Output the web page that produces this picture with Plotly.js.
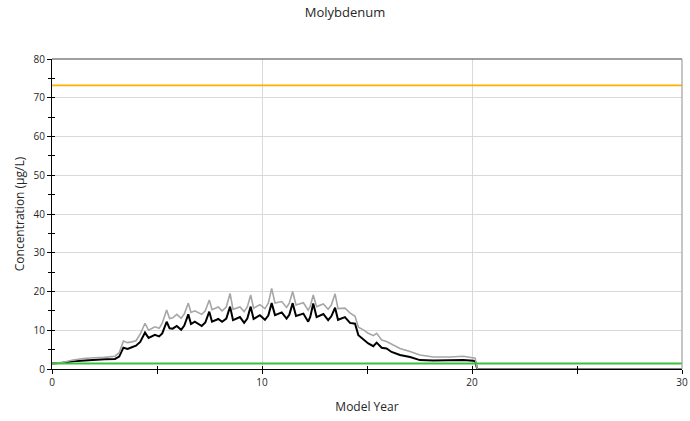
<!DOCTYPE html>
<html>
<head>
<meta charset="utf-8">
<script src="https://cdn.plot.ly/plotly-3.0.1.min.js"></script>
<style>html,body{margin:0;padding:0;background:#fff;}#chart{width:690px;height:421px;}</style>
</head>
<body>
<div id="chart"></div>
<script>
// Model years (x) for the two concentration series
var years = [0,0.5,1.0,1.5,2.0,2.5,3.0,3.2,3.4,3.6,3.8,4.0,4.2,4.43,4.6,4.75,4.9,5.1,5.25,5.46,5.6,5.75,5.94,6.15,6.3,6.49,6.62,6.8,6.95,7.13,7.3,7.49,7.62,7.92,8.1,8.3,8.48,8.62,8.95,9.15,9.3,9.46,9.6,9.9,10.14,10.3,10.46,10.62,10.94,11.17,11.3,11.46,11.62,11.97,12.2,12.3,12.44,12.6,12.92,13.15,13.3,13.48,13.62,13.95,14.19,14.43,14.59,14.83,15.06,15.3,15.46,15.7,15.93,16.17,16.57,17.05,17.52,18.16,18.95,19.59,20.06,20.15,20.25,30];
// Black series (µg/L)
var blackSeries = [1.4,1.6,2.0,2.2,2.4,2.5,2.6,3.2,5.5,5.2,5.6,6.0,7.0,9.4,8.0,8.3,8.8,8.4,9.2,12.2,10.5,10.4,11.1,10.1,11.2,14.1,11.6,12.2,11.6,11.1,12.0,14.8,12.2,12.9,12.2,13.0,16.1,12.6,13.4,11.9,13.0,16.1,12.9,13.9,12.7,13.8,17.0,13.9,14.6,13.0,14.0,17.0,13.7,14.3,12.2,13.5,16.9,13.4,14.2,12.6,13.6,15.8,12.7,13.4,11.9,11.7,8.7,7.6,6.6,5.9,6.8,5.5,5.3,4.4,3.6,3.1,2.3,2.2,2.2,2.3,2.1,2.0,0,0];
// Grey series (µg/L)
var greySeries = [1.4,1.7,2.3,2.7,2.9,3.0,3.3,4.2,7.2,6.8,7.0,7.3,9.0,11.8,10.0,10.4,10.9,10.5,11.8,15.2,13.0,13.2,14.1,13.1,14.2,17.0,14.6,15.0,14.6,14.1,15.0,17.8,15.3,16.0,15.0,16.0,19.5,15.4,16.0,14.8,16.0,19.1,15.7,16.6,15.6,17.0,20.8,17.0,17.4,15.9,17.0,20.0,16.5,17.1,15.2,16.2,19.1,16.1,16.8,15.4,16.5,19.4,15.6,15.7,14.5,13.6,10.8,10.1,9.2,8.6,9.2,7.5,7.1,6.5,5.3,4.5,3.6,3.1,3.1,3.3,2.9,2.8,0,0];
// Reference levels (µg/L)
var refYears = [0,30];
var greenLevel = [1.4,1.4];
var orangeLevel = [73.2,73.2];
// Tick labels
var xTicks = [0,10,20,30];
var yTicks = [0,10,20,30,40,50,60,70,80];

var font = "Open Sans, Liberation Sans, sans-serif";
var traces = [
  {x: years, y: blackSeries, mode:'lines', line:{color:'#000000', width:2}, hoverinfo:'skip'},
  {x: years, y: greySeries, mode:'lines', line:{color:'#a6a6a6', width:1.6}, hoverinfo:'skip'},
  {x: refYears, y: greenLevel, mode:'lines', line:{color:'#3cbf3c', width:2}, hoverinfo:'skip'},
  {x: refYears, y: orangeLevel, mode:'lines', line:{color:'#ffb000', width:1.6}, hoverinfo:'skip'},
  {x: refYears, y: [null,null], xaxis:'x2', yaxis:'y2', mode:'lines', hoverinfo:'skip'}
];
var layout = {
  width:690, height:421,
  margin:{l:52, r:8, t:59, b:52},
  paper_bgcolor:'#ffffff', plot_bgcolor:'#ffffff',
  showlegend:false,
  title:{text:'Molybdenum', font:{family:font, size:13, color:'#262626'}, x:0.5, xanchor:'center', y:0.982, yanchor:'top'},
  xaxis:{range:[0,30], tickvals:xTicks, ticktext:xTicks.map(String), showgrid:true, gridcolor:'#d9d9d9', gridwidth:1,
    zeroline:false, showline:true, linecolor:'#000000', linewidth:1, mirror:false,
    ticks:'outside', ticklen:4, tickcolor:'#000000',
    minor:{dtick:5, ticks:'outside', ticklen:4, tickcolor:'#000000', showgrid:false},
    tickfont:{family:font, size:10, color:'#262626'},
    title:{text:'Model Year', font:{family:font, size:12, color:'#262626'}, standoff:14},
    layer:'below traces', fixedrange:true},
  yaxis:{range:[0,80], tickvals:yTicks, ticktext:yTicks.map(String), showgrid:true, gridcolor:'#d9d9d9', gridwidth:1,
    zeroline:false, showline:true, linecolor:'#000000', linewidth:1,
    ticks:'outside', ticklen:4, tickcolor:'#000000',
    minor:{dtick:5, ticks:'outside', ticklen:3, tickcolor:'#000000', showgrid:false},
    tickfont:{family:font, size:10, color:'#262626'},
    title:{text:'Concentration (µg/L)', font:{family:font, size:12, color:'#262626'}, standoff:6},
    layer:'below traces', fixedrange:true},
  xaxis2:{overlaying:'x', range:[0,30], side:'bottom', anchor:'y2', showgrid:false, zeroline:false, showline:false,
    showticklabels:false, ticks:'inside', dtick:5, tick0:0, ticklen:3, tickcolor:'#000000', fixedrange:true},
  yaxis2:{overlaying:'y', range:[0,80], side:'left', anchor:'x2', showgrid:false, zeroline:false, showline:false,
    showticklabels:false, ticks:'inside', dtick:5, tick0:0, ticklen:3, tickcolor:'#000000', fixedrange:true},
  shapes:[
    {type:'line', xref:'paper', yref:'paper', x0:0, x1:1, y0:1, y1:1, line:{color:'#404040', width:1.2}},
    {type:'line', xref:'paper', yref:'paper', x0:1, x1:1, y0:0, y1:1, line:{color:'#a0a0a0', width:1.2}}
  ]
};
Plotly.newPlot('chart', traces, layout, {displayModeBar:false, staticPlot:true});
</script>
</body>
</html>
